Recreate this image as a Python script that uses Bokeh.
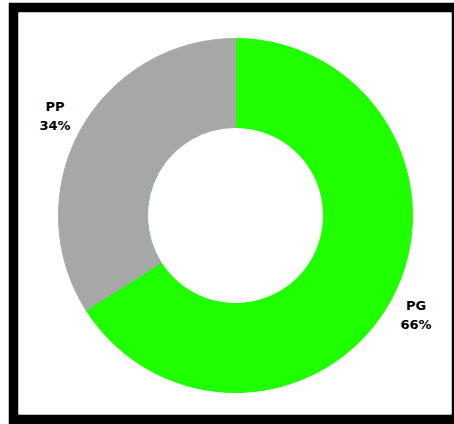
import numpy as np
from bokeh.plotting import figure
from bokeh.models import ColumnDataSource, Range1d
from bokeh.core.properties import value
from bokeh.embed import file_html
from bokeh.resources import INLINE

categories = ["PG", "PP"]
shares = [66, 34]
colors = ["#20FF00", "#A6A8A7"]

frac = np.array(shares, dtype=float) / sum(shares)
ends = np.pi / 2 - np.cumsum(frac) * 2 * np.pi
starts = np.concatenate([[np.pi / 2], ends[:-1]])
mids = (starts + ends) / 2

W, H = 433, 402
cx, cy = 217, 199
label_r = 206

src = ColumnDataSource(dict(
    cat=categories, start=ends, end=starts, color=colors,
    lx=cx + label_r * np.cos(mids), ly=cy + label_r * np.sin(mids),
    label=[f"{c}\n{s}%" for c, s in zip(categories, shares)],
))

p = figure(width=446, height=422, output_backend="svg", toolbar_location=None,
           x_range=Range1d(0, W), y_range=Range1d(0, H),
           min_border_left=10, min_border_top=10, min_border_bottom=10, min_border_right=3)
p.margin = (2, 0, 0, 8)
p.border_fill_color = "black"
p.background_fill_color = "white"
p.outline_line_color = None
p.axis.visible = False
p.grid.visible = False

p.annular_wedge(x=cx, y=cy, inner_radius=88, outer_radius=177,
                inner_radius_units="screen", outer_radius_units="screen",
                start_angle="start", end_angle="end", direction="anticlock",
                fill_color="color", line_color="color", source=src)

p.text(x="lx", y="ly", text="label", source=src, text_align="center",
       text_baseline="middle", text_font=value("DejaVu Sans"), text_font_style="bold",
       text_font_size="13px", text_color="black", text_line_height=1.25)

open("out.html", "w").write(file_html(p, INLINE))
